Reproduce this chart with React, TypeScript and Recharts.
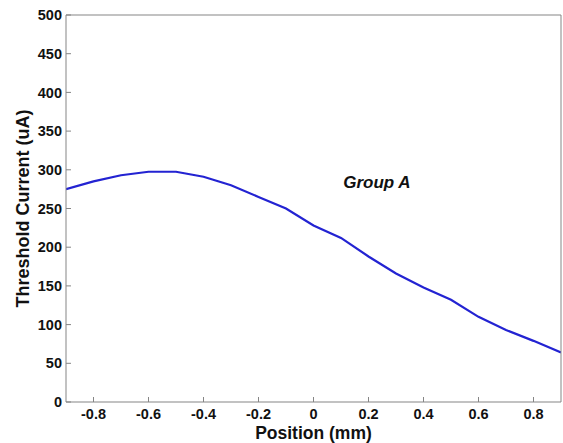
import { LineChart, Line, XAxis, YAxis, ReferenceDot } from "recharts";

// position along the electrode (mm)
const positions = [-0.9, -0.8, -0.7, -0.6, -0.5, -0.4, -0.3, -0.2, -0.1, 0, 0.1, 0.2, 0.3, 0.4, 0.5, 0.6, 0.7, 0.8, 0.9];
// threshold current (uA)
const thresholds = [275, 285, 293, 297.5, 297.5, 291, 280, 265, 250, 228, 212, 188, 166, 148, 132, 110, 93, 79, 64];

const xTicks = [-0.8, -0.6, -0.4, -0.2, 0, 0.2, 0.4, 0.6, 0.8];
const yTicks = [0, 50, 100, 150, 200, 250, 300, 350, 400, 450, 500];

const groupLabel = { x: 0.09, y: 284, text: "Group A" };

const data = positions.map((p, i) => ({ pos: p, current: thresholds[i] }));

const FONT = "'Liberation Sans', Arial, Helvetica, sans-serif";
const AXIS_GREY = "#858585";
const tickFont = { fontSize: 14.5, fontWeight: 700, fill: "#111", fontFamily: FONT };

function YTitle(props: any) {
  const vb = props.viewBox ?? { y: 15, height: 387 };
  const cy = vb.y + vb.height / 2;
  return (
    <text
      x={23}
      y={cy}
      transform={`rotate(-90, 23, ${cy})`}
      textAnchor="middle"
      dominantBaseline="central"
      fontSize={18}
      fontWeight={700}
      fontFamily={FONT}
      fill="#111"
    >
      Threshold Current (uA)
    </text>
  );
}

export default function App() {
  return (
    <div style={{ position: "absolute", left: 0, top: 0, background: "#fff" }}>
      <LineChart width={563} height={443} data={data} margin={{ top: 14, right: 1, left: 0, bottom: 0 }}>
        {/* negative tickSize = MATLAB-style inward ticks */}
        <XAxis
          dataKey="pos"
          type="number"
          domain={[-0.9, 0.9]}
          ticks={xTicks}
          allowDataOverflow
          height={41}
          stroke={AXIS_GREY}
          tickSize={-5}
          tickMargin={12}
          tick={tickFont}
          label={{ value: "Position (mm)", position: "insideBottom", offset: 4, fontSize: 17.5, fontWeight: 700, fill: "#111", fontFamily: FONT }}
        />
        <YAxis
          type="number"
          domain={[0, 500]}
          ticks={yTicks}
          width={66}
          stroke={AXIS_GREY}
          tickSize={-5}
          tickMargin={9}
          tick={tickFont}
          label={YTitle}
        />
        <XAxis xAxisId="top" dataKey="pos" type="number" domain={[-0.9, 0.9]} ticks={xTicks} allowDataOverflow
          orientation="top" height={1} tick={false} stroke={AXIS_GREY} tickSize={-5} />
        <YAxis yAxisId="right" type="number" domain={[0, 500]} ticks={yTicks}
          orientation="right" width={1} tick={false} stroke={AXIS_GREY} tickSize={-5} />

        <Line
          type="linear"
          dataKey="current"
          stroke="#2323d2"
          strokeWidth={2.2}
          dot={false}
          activeDot={false}
          isAnimationActive={false}
        />
        <ReferenceDot
          x={groupLabel.x}
          y={groupLabel.y}
          r={0}
          fill="none"
          stroke="none"
          label={{ value: groupLabel.text, position: "right", fontSize: 17, fontWeight: 700, fontStyle: "italic", fill: "#111", fontFamily: FONT }}
        />
      </LineChart>
    </div>
  );
}
